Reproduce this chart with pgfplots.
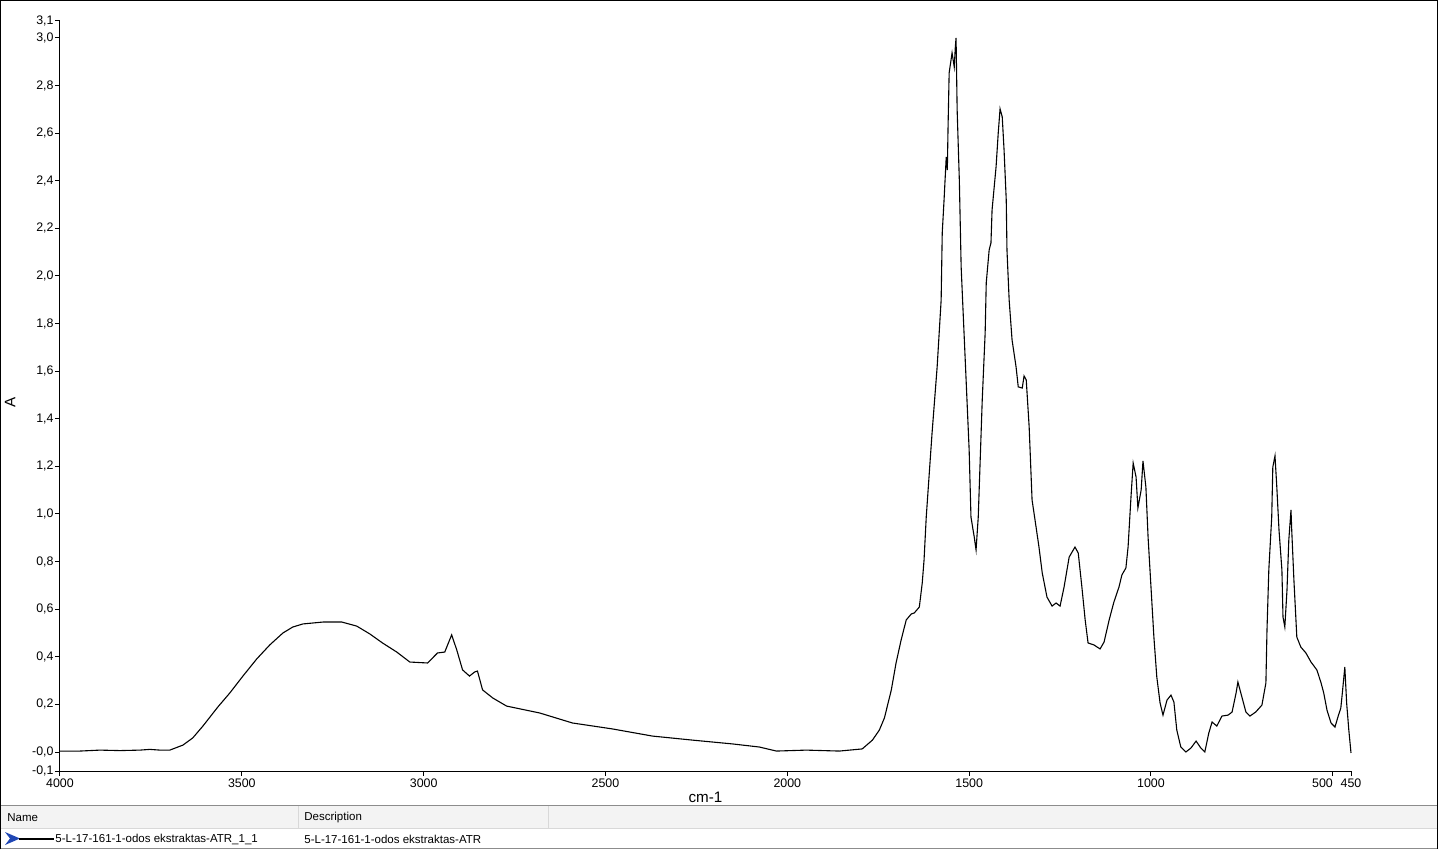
\documentclass[border=0pt]{standalone}
\usepackage{pgfplots}
\pgfplotsset{compat=1.18}
\usepackage{fontspec}
\setmainfont{Liberation Sans}

\definecolor{sepgray}{HTML}{8C8C8C}
\definecolor{hdrgray}{HTML}{F3F3F3}
\definecolor{rulegray}{HTML}{D8D8D8}
\definecolor{iconblue}{HTML}{1F46B4}

\begin{document}
\begin{tikzpicture}
  % frame and legend table, drawn in pixel units (1 px = 0.5 pt)
  \begin{scope}[x=0.5pt,y=-0.5pt]
    \useasboundingbox (0,0) rectangle (1438,850);
    \fill[hdrgray] (1,806) rectangle (1437,828);
    \draw[rulegray, line width=0.5pt] (1,828.5) -- (1437,828.5);
    \draw[rulegray, line width=0.5pt] (298,806) -- (298,828);
    \draw[rulegray, line width=0.5pt] (548,806) -- (548,828);
    \draw[sepgray, line width=0.5pt] (0,805.5) -- (1438,805.5);
    \draw[sepgray, line width=0.5pt] (0,848.5) -- (1438,848.5);
    \draw[black, line width=0.5pt] (0.5,849) -- (0.5,0.5) -- (1437.5,0.5) -- (1437.5,849);
    \node[anchor=west, inner sep=0pt, font=\fontsize{5.75}{6}\selectfont] at (7,818) {Name};
    \node[anchor=west, inner sep=0pt, font=\fontsize{5.75}{6}\selectfont] at (304,818) {Description};
    \fill[iconblue] (5,832) -- (20,838.5) -- (5,845) -- (10,838.5) -- cycle;
    \draw[black, line width=0.8pt] (19,839) -- (54,839);
    \node[anchor=west, inner sep=0pt, font=\fontsize{5.75}{6}\selectfont] at (55,839) {5-L-17-161-1-odos ekstraktas-ATR\_1\_1};
    \node[anchor=west, inner sep=0pt, font=\fontsize{5.75}{6}\selectfont] at (304,839) {5-L-17-161-1-odos ekstraktas-ATR};
  \end{scope}

  \begin{axis}[
    at={(30pt,-385.5pt)}, anchor=south west,
    scale only axis,
    width=645.5pt, height=375pt,
    x dir=reverse,
    xmin=450, xmax=4000,
    ymin=-0.0798, ymax=3.071,
    axis x line*=bottom, axis y line*=left,
    axis line style={-, line width=0.5pt, black},
    tick align=outside,
    major tick length=2.5pt,
    every tick/.style={black, line width=0.5pt},
    xtick={4000,3500,3000,2500,2000,1500,1000,500,450},
    xticklabels={4000,3500,3000,2500,2000,1500,1000,{\makebox[0pt][r]{500}},450},
    ytick={-0.0798,0,0.2,0.4,0.6,0.8,1.0,1.2,1.4,1.6,1.8,2.0,2.2,2.4,2.6,2.8,3.0,3.071},
    yticklabels={{-0{,}1},{-0{,}0},{0{,}2},{0{,}4},{0{,}6},{0{,}8},{1{,}0},{1{,}2},{1{,}4},{1{,}6},{1{,}8},{2{,}0},{2{,}2},{2{,}4},{2{,}6},{2{,}8},{3{,}0},{3{,}1}},
    tick label style={font=\fontsize{6.2}{7}\selectfont, inner sep=0pt},
    xticklabel style={anchor=north, yshift=-1pt},
    yticklabel style={anchor=east, xshift=-0.5pt},
    xlabel={cm-1}, ylabel={A},
    label style={font=\fontsize{7.6}{8}\selectfont, inner sep=0pt},
    xlabel style={at={(axis description cs:0.5,-0.0347)}, anchor=center},
    ylabel style={at={(axis description cs:-0.0387,0.492)}, anchor=center, rotate=0},
    clip=false,
  ]
  \addplot[black, line width=0.55pt] coordinates {
    (4000,0.004) (3945,0.004) (3890,0.008) (3835,0.006) (3780,0.008)
    (3753,0.011) (3725,0.008) (3698,0.008) (3662,0.029) (3635,0.059)
    (3607,0.109) (3566,0.189) (3533,0.248) (3497,0.319) (3459,0.391)
    (3423,0.450) (3387,0.500) (3360,0.525) (3332,0.538) (3277,0.546)
    (3225,0.546) (3184,0.529) (3148,0.496) (3113,0.458) (3074,0.420)
    (3038,0.378) (2989,0.374) (2962,0.416) (2942,0.420) (2923,0.492)
    (2909,0.429) (2893,0.345) (2874,0.319) (2860,0.336) (2852,0.340)
    (2838,0.261) (2810,0.227) (2772,0.193) (2681,0.164) (2591,0.122)
    (2481,0.097) (2371,0.067) (2261,0.050) (2151,0.034) (2077,0.021)
    (2030,0.004) (1948,0.008) (1857,0.004) (1794,0.013) (1766,0.050)
    (1747,0.092) (1733,0.143) (1714,0.261) (1701,0.374) (1687,0.471)
    (1673,0.555) (1659,0.580) (1651,0.584) (1637,0.609) (1629,0.710)
    (1624,0.807) (1618,0.987) (1602,1.340) (1588,1.618) (1577,1.899)
    (1574,2.181) (1569,2.319) (1563,2.500) (1560,2.445) (1558,2.626)
    (1555,2.853) (1547,2.937) (1541,2.878) (1538,2.962) (1536,3.000)
    (1533,2.697) (1527,2.403) (1522,2.038) (1516,1.828) (1508,1.550)
    (1500,1.269) (1495,0.987) (1486,0.903) (1481,0.849) (1475,0.987)
    (1464,1.479) (1456,1.761) (1453,1.971) (1445,2.109) (1440,2.139)
    (1437,2.277) (1426,2.458) (1420,2.601) (1415,2.702) (1409,2.668)
    (1404,2.529) (1398,2.319) (1396,2.109) (1390,1.899) (1382,1.731)
    (1371,1.618) (1365,1.534) (1354,1.529) (1349,1.580) (1343,1.563)
    (1335,1.366) (1327,1.059) (1316,0.945) (1308,0.861) (1299,0.752)
    (1286,0.651) (1272,0.613) (1261,0.626) (1250,0.613) (1239,0.693)
    (1225,0.819) (1209,0.861) (1200,0.836) (1190,0.693) (1181,0.555)
    (1173,0.458) (1157,0.450) (1140,0.433) (1129,0.462) (1115,0.555)
    (1102,0.630) (1088,0.693) (1080,0.744) (1069,0.773) (1063,0.861)
    (1055,1.071) (1049,1.214) (1041,1.155) (1036,1.025) (1027,1.101)
    (1022,1.223) (1014,1.113) (1008,0.903) (1000,0.693) (992,0.483)
    (984,0.315) (975,0.206) (967,0.155) (956,0.218) (945,0.239)
    (937,0.210) (929,0.092) (918,0.021) (904,0.000) (890,0.017)
    (876,0.046) (863,0.017) (852,0.000) (841,0.080) (832,0.126)
    (819,0.109) (805,0.151) (788,0.155) (777,0.168) (766,0.248)
    (761,0.294) (750,0.231) (739,0.168) (728,0.151) (712,0.168)
    (695,0.197) (684,0.290) (681,0.513) (676,0.765) (668,0.987)
    (665,1.197) (659,1.244) (654,1.113) (648,0.933) (640,0.765)
    (637,0.567) (632,0.525) (626,0.681) (621,0.891) (615,1.017)
    (613,0.933) (607,0.723) (599,0.483) (588,0.441) (574,0.416)
    (560,0.378) (544,0.345) (533,0.294) (525,0.248) (516,0.176)
    (505,0.122) (494,0.105) (486,0.147) (478,0.185) (473,0.261)
    (467,0.357) (462,0.206) (456,0.092) (450,-0.004)
  };
  \end{axis}
\end{tikzpicture}
\end{document}
